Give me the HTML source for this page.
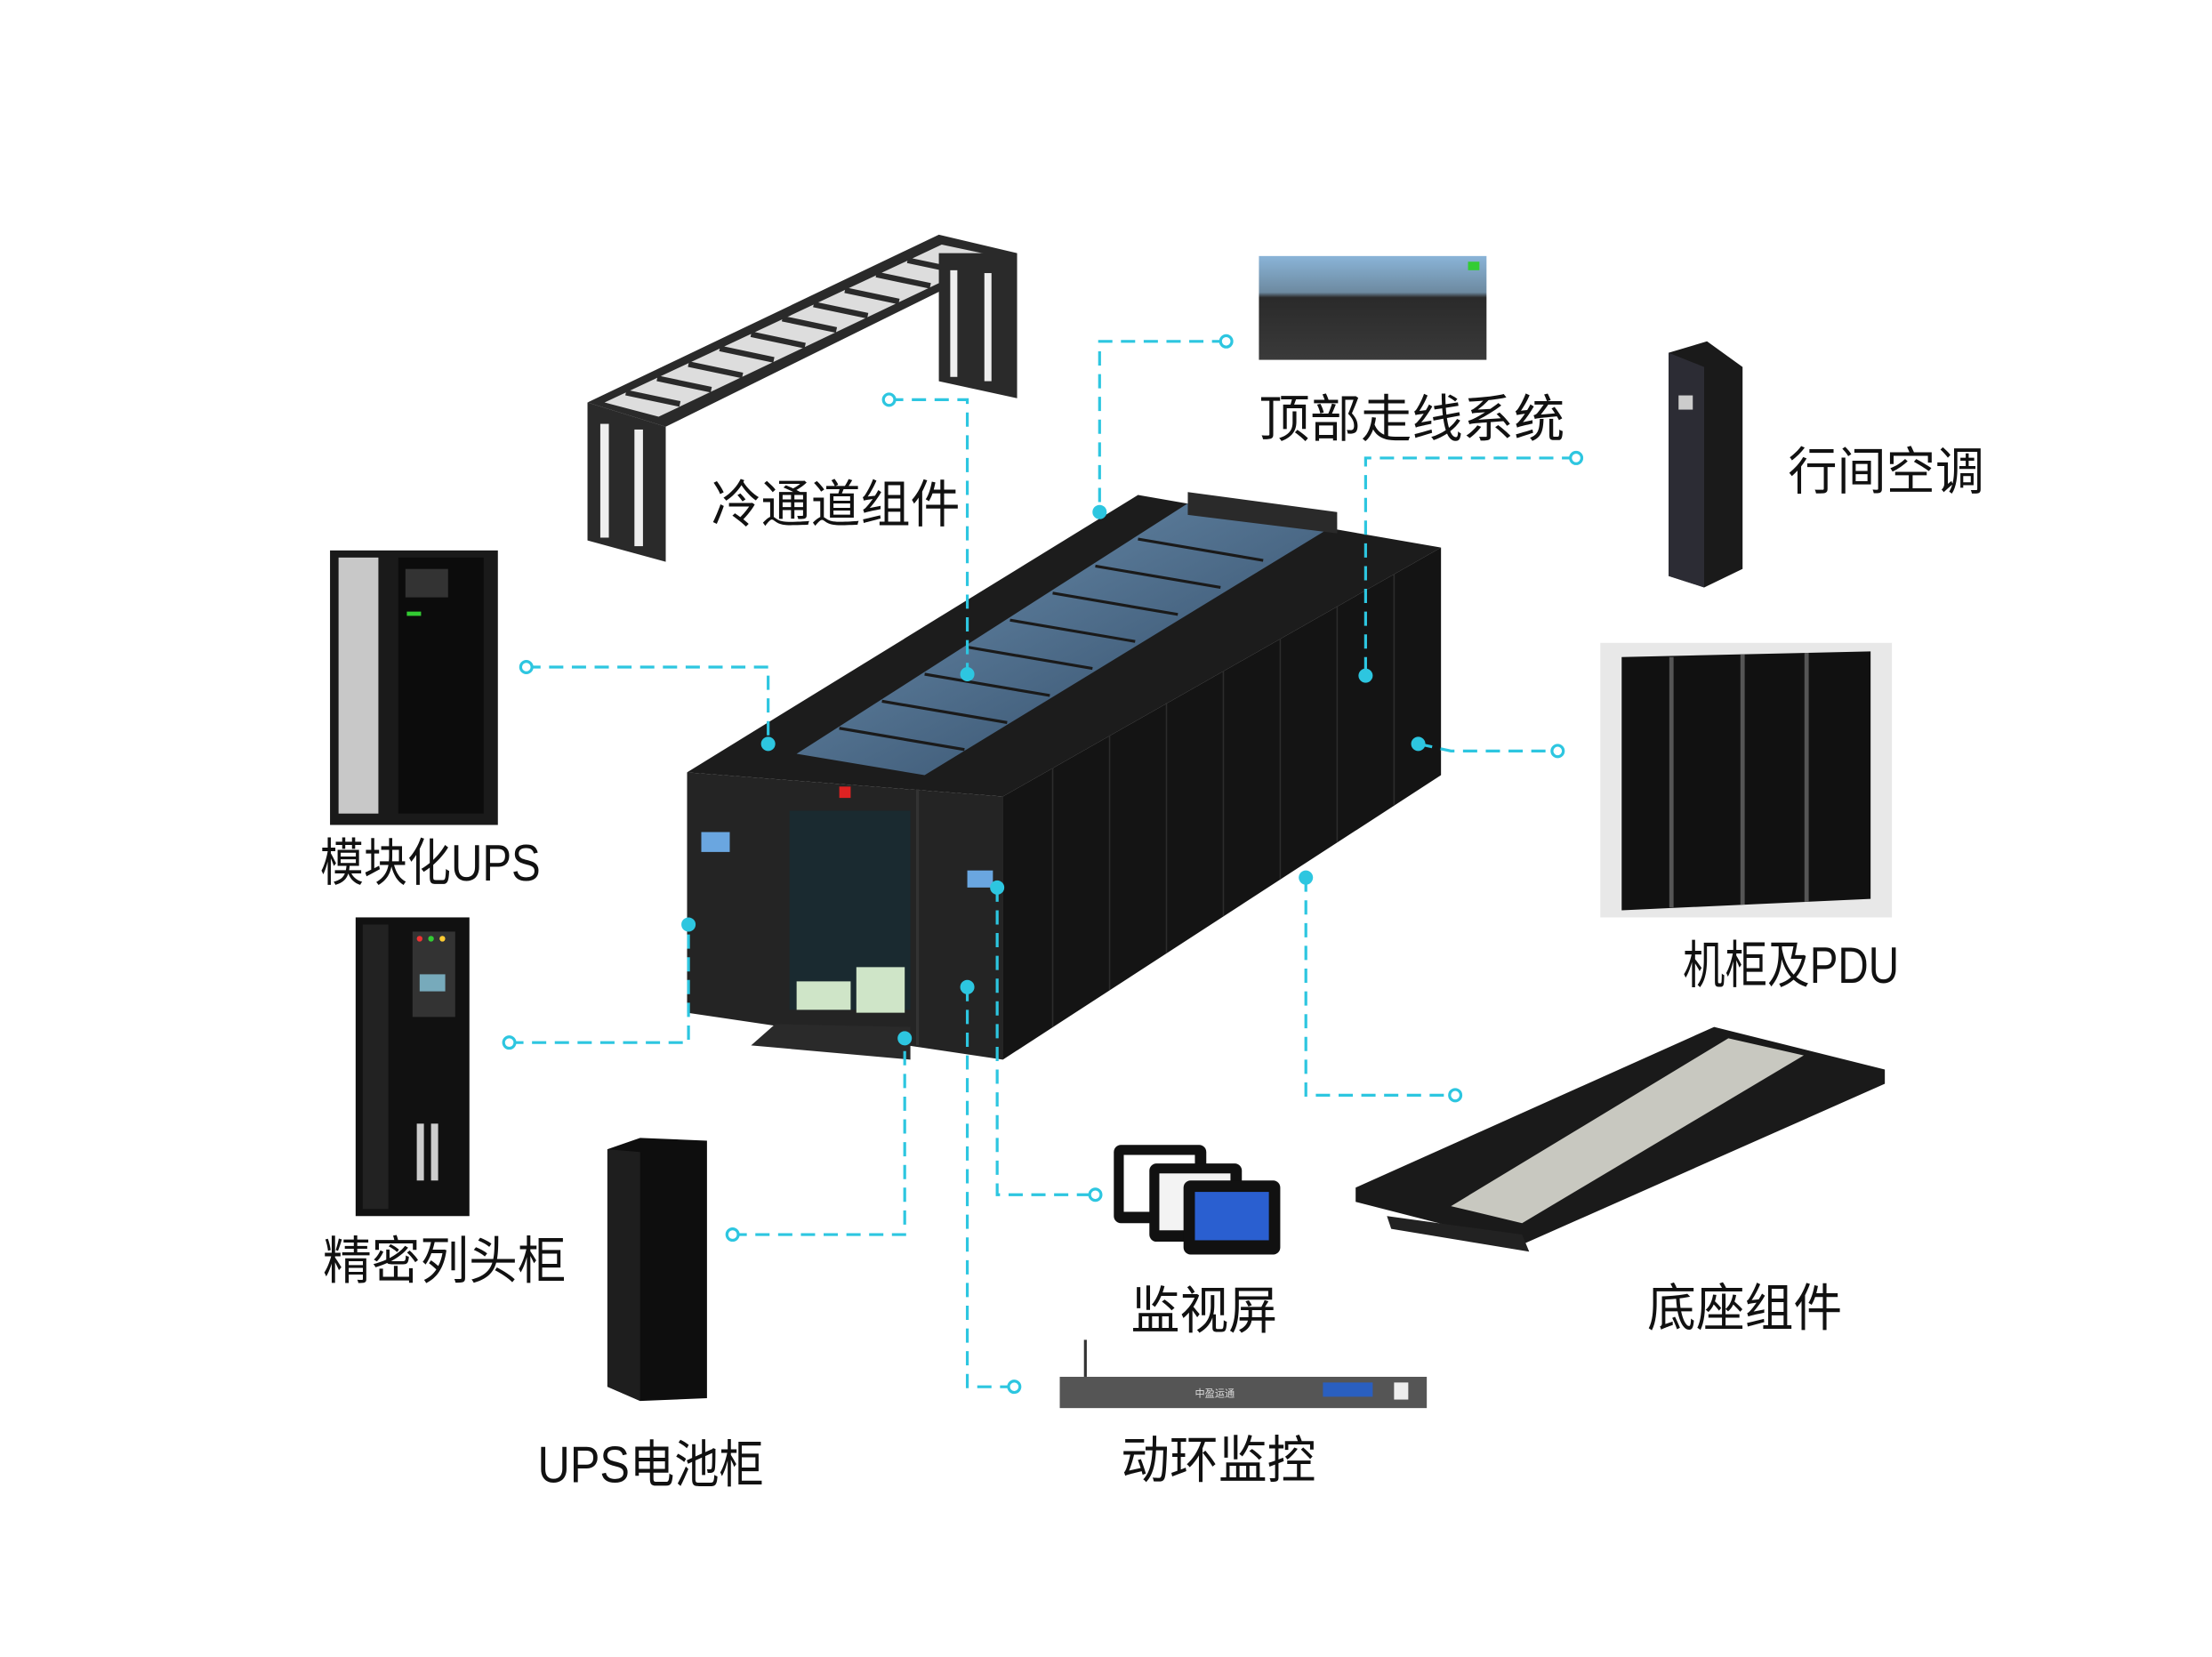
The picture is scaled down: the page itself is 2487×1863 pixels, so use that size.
<!DOCTYPE html>
<html><head><meta charset="utf-8">
<style>
html,body{margin:0;padding:0;background:#fff;}
svg{display:block;}
text{font-family:"Liberation Sans","Noto Sans CJK SC",sans-serif;fill:#111;}
</style></head>
<body>
<svg width="2487" height="1863" viewBox="0 0 1555 1165" preserveAspectRatio="none" xmlns="http://www.w3.org/2000/svg">
<defs>
<linearGradient id="glass" x1="0" y1="0" x2="1" y2="1">
<stop offset="0" stop-color="#6f93b3"/><stop offset="1" stop-color="#2c4560"/></linearGradient>
<linearGradient id="cab" x1="0" y1="0" x2="0" y2="1">
<stop offset="0" stop-color="#8ab4d8"/><stop offset="0.35" stop-color="#6d8aa0"/><stop offset="0.4" stop-color="#2a2a2a"/><stop offset="1" stop-color="#3a3a3a"/></linearGradient>
</defs>
<rect width="1555" height="1165" fill="#fff"/>

<!-- main container -->
<polygon points="483,543 800,348 1013,385 705,560" fill="#1c1c1c"/>
<polygon points="560,530 838,352 940,368 650,545" fill="url(#glass)"/>
<g stroke="#1a1a1a" stroke-width="2">
<line x1="590" y1="512" x2="678" y2="527"/><line x1="620" y1="493" x2="708" y2="508"/>
<line x1="650" y1="474" x2="738" y2="489"/><line x1="680" y1="455" x2="768" y2="470"/>
<line x1="710" y1="436" x2="798" y2="451"/><line x1="740" y1="417" x2="828" y2="432"/>
<line x1="770" y1="398" x2="858" y2="413"/><line x1="800" y1="379" x2="888" y2="394"/>
</g>
<polygon points="835,346 940,360 940,375 835,362" fill="#2a2a2a"/>
<polygon points="483,543 705,560 705,745 483,712" fill="#242424"/>
<polygon points="705,560 1013,385 1013,545 705,745" fill="#141414"/>
<g stroke="#2c2c2c" stroke-width="1">
<line x1="740" y1="540" x2="740" y2="722"/><line x1="780" y1="517" x2="780" y2="696"/>
<line x1="820" y1="494" x2="820" y2="670"/><line x1="860" y1="472" x2="860" y2="644"/>
<line x1="900" y1="449" x2="900" y2="618"/><line x1="940" y1="426" x2="940" y2="592"/>
<line x1="980" y1="404" x2="980" y2="566"/>
</g>
<line x1="645" y1="555" x2="645" y2="735" stroke="#333" stroke-width="2"/>
<rect x="555" y="570" width="85" height="140" fill="#1a2a30"/>
<polygon points="560,690 598,690 598,710 560,710" fill="#cfe5c8"/>
<polygon points="602,680 636,680 636,712 602,712" fill="#cfe5c8"/>
<rect x="493" y="585" width="20" height="14" fill="#6aa6e0"/>
<rect x="680" y="612" width="18" height="12" fill="#6aa6e0"/>
<rect x="590" y="553" width="8" height="8" fill="#d22"/>
<polygon points="528,735 545,720 640,722 640,745" fill="#2a2a2a"/>

<!-- cold aisle component -->
<polygon points="413,283 660,165 715,178 468,300" fill="#2a2a2a"/>
<polygon points="425,283 662,172 700,180 463,293" fill="#ddd"/>
<g stroke="#2a2a2a" stroke-width="4">
<line x1="440" y1="276" x2="478" y2="284"/><line x1="462" y1="266" x2="500" y2="274"/>
<line x1="484" y1="256" x2="522" y2="264"/><line x1="506" y1="245" x2="544" y2="253"/>
<line x1="528" y1="235" x2="566" y2="243"/><line x1="550" y1="224" x2="588" y2="232"/>
<line x1="572" y1="214" x2="610" y2="222"/><line x1="594" y1="204" x2="632" y2="212"/>
<line x1="616" y1="193" x2="654" y2="201"/><line x1="638" y1="183" x2="676" y2="191"/>
</g>
<polygon points="413,283 468,300 468,395 413,380" fill="#2a2a2a"/>
<rect x="422" y="298" width="6" height="80" fill="#eee"/><rect x="446" y="302" width="6" height="82" fill="#eee"/>
<polygon points="660,178 715,178 715,280 660,268" fill="#2a2a2a"/>
<rect x="668" y="190" width="5" height="75" fill="#eee"/><rect x="692" y="192" width="5" height="76" fill="#eee"/>

<!-- top cabling -->
<rect x="885" y="180" width="160" height="73" fill="url(#cab)"/>
<rect x="1032" y="184" width="8" height="6" fill="#3c3"/>

<!-- AC -->
<polygon points="1173,248 1200,240 1225,258 1225,400 1198,413 1173,405" fill="#1a1a1a"/>
<polygon points="1173,248 1198,258 1198,413 1173,405" fill="#2c2c34"/>
<rect x="1180" y="278" width="10" height="10" fill="#ccc"/>

<!-- UPS -->
<rect x="232" y="387" width="118" height="193" fill="#1a1a1a"/>
<rect x="238" y="392" width="28" height="180" fill="#c8c8c8"/>
<rect x="280" y="392" width="60" height="180" fill="#0c0c0c"/>
<rect x="285" y="400" width="30" height="20" fill="#333"/>
<rect x="286" y="430" width="10" height="3" fill="#3c3"/>

<!-- cabinet & PDU -->
<rect x="1125" y="452" width="205" height="193" fill="#e8e8e8"/>
<polygon points="1140,462 1315,458 1315,632 1140,640" fill="#111"/>
<line x1="1175" y1="462" x2="1175" y2="638" stroke="#555" stroke-width="3"/>
<line x1="1225" y1="460" x2="1225" y2="636" stroke="#555" stroke-width="3"/>
<line x1="1270" y1="459" x2="1270" y2="634" stroke="#555" stroke-width="3"/>

<!-- precision column cabinet -->
<rect x="250" y="645" width="80" height="210" fill="#111"/>
<rect x="255" y="650" width="18" height="200" fill="#222"/>
<rect x="290" y="655" width="30" height="60" fill="#333"/>
<rect x="295" y="685" width="18" height="12" fill="#7ab"/>
<circle cx="295" cy="660" r="2" fill="#e33"/><circle cx="303" cy="660" r="2" fill="#3c3"/><circle cx="311" cy="660" r="2" fill="#fc3"/>
<rect x="293" y="790" width="5" height="40" fill="#ccc"/><rect x="303" y="790" width="5" height="40" fill="#ccc"/>

<!-- battery cabinet -->
<polygon points="427,808 450,800 497,802 497,983 450,985 427,975" fill="#0e0e0e"/>
<polygon points="427,808 450,810 450,985 427,975" fill="#1e1e1e"/>

<!-- monitors -->
<rect x="783" y="805" width="65" height="55" rx="5" fill="#111"/>
<rect x="790" y="812" width="50" height="40" fill="#fff"/>
<rect x="808" y="818" width="65" height="55" rx="5" fill="#111"/>
<rect x="815" y="825" width="50" height="40" fill="#f3f3f3"/>
<rect x="832" y="830" width="68" height="52" rx="5" fill="#111"/>
<rect x="840" y="838" width="52" height="34" fill="#2a5fd0"/>

<!-- 动环 device -->
<line x1="763" y1="968" x2="763" y2="942" stroke="#333" stroke-width="2"/>
<rect x="745" y="968" width="258" height="22" fill="#555"/>
<rect x="930" y="972" width="35" height="10" fill="#2a5fc0"/>
<rect x="980" y="972" width="10" height="12" fill="#eee"/>
<text x="840" y="982" font-size="7" style="fill:#ddd">中盈运通</text>

<!-- base -->
<polygon points="953,835 1205,722 1325,752 1325,762 1070,875 953,845" fill="#1a1a1a"/>
<polygon points="1020,848 1215,730 1268,742 1070,860" fill="#c8c8c0"/>
<polygon points="975,855 1070,868 1075,880 978,864" fill="#222"/>

<!-- connectors -->
<g stroke="#2dc6e0" stroke-width="2" stroke-dasharray="10,6" fill="none">
<polyline points="625,281 680,281 680,474"/>
<polyline points="862,240 773,240 773,360"/>
<polyline points="1108,322 960,322 960,475"/>
<polyline points="370,469 540,469 540,523"/>
<polyline points="997,523 1020,528 1095,528"/>
<polyline points="358,733 484,733 484,650"/>
<polyline points="515,868 636,868 636,730"/>
<polyline points="701,624 701,840 770,840"/>
<polyline points="680,694 680,975 713,975"/>
<polyline points="918,617 918,770 1023,770"/>
</g>
<g fill="#2dc6e0">
<circle cx="680" cy="474" r="5"/><circle cx="773" cy="360" r="5"/><circle cx="960" cy="475" r="5"/>
<circle cx="540" cy="523" r="5"/><circle cx="997" cy="523" r="5"/><circle cx="484" cy="650" r="5"/>
<circle cx="636" cy="730" r="5"/><circle cx="701" cy="624" r="5"/><circle cx="680" cy="694" r="5"/><circle cx="918" cy="617" r="5"/>
</g>
<g fill="#fff" stroke="#2dc6e0" stroke-width="2">
<circle cx="625" cy="281" r="4"/><circle cx="862" cy="240" r="4"/><circle cx="1108" cy="322" r="4"/>
<circle cx="370" cy="469" r="4"/><circle cx="1095" cy="528" r="4"/><circle cx="358" cy="733" r="4"/>
<circle cx="515" cy="868" r="4"/><circle cx="770" cy="840" r="4"/><circle cx="713" cy="975" r="4"/><circle cx="1023" cy="770" r="4"/>
</g>

<!-- labels -->
<g font-size="36">
<text x="500" y="367" textLength="175" lengthAdjust="spacingAndGlyphs">冷通道组件</text>
<text x="885" y="307" textLength="215" lengthAdjust="spacingAndGlyphs">顶部走线系统</text>
<text x="1257" y="344" textLength="138" lengthAdjust="spacingAndGlyphs">行间空调</text>
<text x="225" y="619" textLength="155" lengthAdjust="spacingAndGlyphs">模块化UPS</text>
<text x="1183" y="691" textLength="152" lengthAdjust="spacingAndGlyphs">机柜及PDU</text>
<text x="227" y="899" textLength="171" lengthAdjust="spacingAndGlyphs">精密列头柜</text>
<text x="795" y="934" textLength="103" lengthAdjust="spacingAndGlyphs">监视屏</text>
<text x="1158" y="932" textLength="137" lengthAdjust="spacingAndGlyphs">底座组件</text>
<text x="378" y="1042" textLength="159" lengthAdjust="spacingAndGlyphs">UPS电池柜</text>
<text x="788" y="1039" textLength="137" lengthAdjust="spacingAndGlyphs">动环监控</text>
</g>
</svg>
</body></html>
